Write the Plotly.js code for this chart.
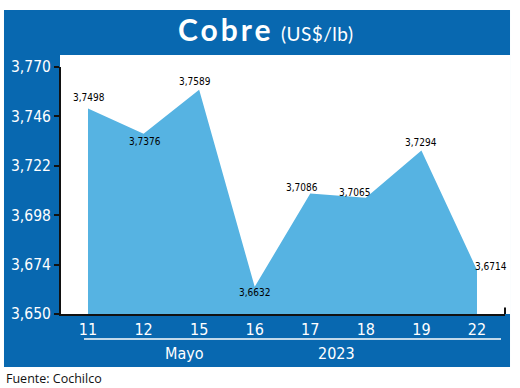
<!DOCTYPE html>
<html>
<head>
<meta charset="utf-8">
<script src="https://cdn.plot.ly/plotly-3.0.1.min.js"></script>
<style>
html,body{margin:0;padding:0;background:#fff;}
#chart{width:520px;height:388px;}
</style>
</head>
<body>
<div id="chart"></div>
<script>
// ---- data ----
var days = ['11', '12', '15', '16', '17', '18', '19', '22'];
var prices = [3.7498, 3.7376, 3.7589, 3.6632, 3.7086, 3.7065, 3.7294, 3.6714];
var priceLabels = ['3,7498', '3,7376', '3,7589', '3,6632', '3,7086', '3,7065', '3,7294', '3,6714'];
var yTickVals = [3.650, 3.674, 3.698, 3.722, 3.746, 3.770];
var yTickText = ['3,650', '3,674', '3,698', '3,722', '3,746', '3,770'];
var monthLabel = 'Mayo';
var yearLabel = '2023';
var titleMain = 'Cobre';
var titleUnit = '(US$/lb)';
var sourceText = 'Fuente: Cochilco';

// ---- styling ----
var DARK = '#0868B0';
var LIGHT = '#56B3E2';
var NARROW = '"DejaVu Sans Condensed", "Liberation Sans Narrow", sans-serif';
var labelShift = [[1, 11], [1, -8], [-4, 8], [0, -6], [-8, 6], [-11, 5], [0, 8], [14, 3]];

var trace = {
  type: 'scatter',
  mode: 'lines',
  x: days,
  y: prices,
  fill: 'tozeroy',
  fillcolor: LIGHT,
  line: {width: 0, color: LIGHT},
  hoverinfo: 'skip'
};

var annotations = [];
for (var i = 0; i < days.length; i++) {
  annotations.push({
    x: days.indexOf(days[i]), y: prices[i], xref: 'x', yref: 'y',
    text: priceLabels[i], showarrow: false,
    xanchor: 'center', yanchor: 'middle',
    xshift: labelShift[i][0], yshift: labelShift[i][1],
    font: {family: NARROW, size: 10, color: '#000'}
  });
}
annotations.push({
  xref: 'paper', yref: 'paper', x: 0.46, y: 1.154,
  xanchor: 'center', yanchor: 'middle', showarrow: false,
  text: '<span style="letter-spacing:3px">' + titleMain + '</span> <span style="font-size:19px;font-weight:normal;letter-spacing:0.5px">' + titleUnit + '</span>',
  font: {family: 'Lato, "Open Sans", sans-serif', size: 30, weight: 'bold', color: '#fff'}
});
annotations.push({
  xref: 'paper', yref: 'paper', x: 0.279, y: -0.158,
  xanchor: 'center', yanchor: 'middle', showarrow: false,
  text: monthLabel, font: {family: NARROW, size: 16, color: '#fff'}
});
annotations.push({
  xref: 'paper', yref: 'paper', x: 0.6216, y: -0.158,
  xanchor: 'center', yanchor: 'middle', showarrow: false,
  text: yearLabel, font: {family: NARROW, size: 16, color: '#fff'}
});
annotations.push({
  xref: 'paper', yref: 'paper', x: -0.1284, y: -0.263,
  xanchor: 'left', yanchor: 'middle', showarrow: false,
  text: sourceText, font: {family: '"Open Sans", sans-serif', size: 12.5, color: '#111'}
});

var shapes = [
  {type: 'rect', xref: 'paper', yref: 'paper', x0: -0.1284, x1: 1.0113, y0: -0.2146, y1: 1.2308,
   fillcolor: DARK, line: {width: 0}, layer: 'below'},
  {type: 'rect', xref: 'paper', yref: 'paper', x0: -0.00225, x1: 1.0113, y0: 0, y1: 1.0486,
   fillcolor: '#fff', line: {width: 0}, layer: 'below'},
  {type: 'line', xref: 'paper', yref: 'paper', x0: 0.0518, x1: 0.991, y0: -0.1012, y1: -0.1012,
   line: {color: '#fff', width: 1.5}},
  {type: 'line', xref: 'paper', yref: 'paper', x0: 1.0, x1: 1.0, y0: 0, y1: 0.026,
   line: {color: '#111', width: 2}}
];

var layout = {
  width: 520, height: 388,
  margin: {l: 61, r: 15, t: 67, b: 74, pad: 0},
  paper_bgcolor: '#fff',
  plot_bgcolor: 'rgba(0,0,0,0)',
  showlegend: false,
  xaxis: {
    type: 'category',
    range: [-0.486, 7.504],
    showgrid: false, zeroline: false,
    showline: true, linecolor: '#111', linewidth: 2,
    ticks: '',
    tickfont: {family: NARROW, size: 16, color: '#fff'},
    fixedrange: true
  },
  yaxis: {
    range: [3.650, 3.770],
    tickvals: yTickVals, ticktext: yTickText,
    showgrid: false, zeroline: false,
    showline: true, linecolor: '#111', linewidth: 2,
    ticks: 'outside', ticklen: 5, tickwidth: 2, tickcolor: '#111',
    tickfont: {family: NARROW, size: 15.5, color: '#fff'},
    fixedrange: true
  },
  shapes: shapes,
  annotations: annotations
};

Plotly.newPlot('chart', [trace], layout, {displayModeBar: false, staticPlot: true});
</script>
</body>
</html>
